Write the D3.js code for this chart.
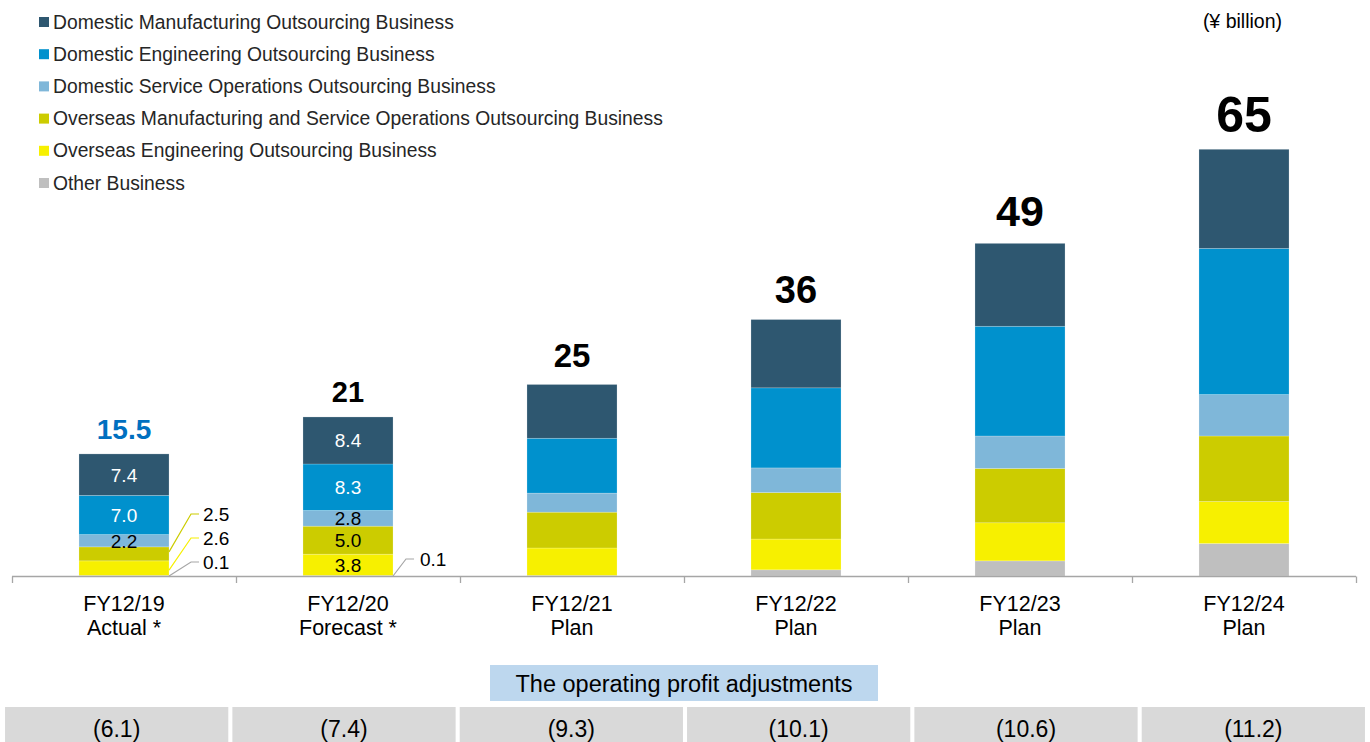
<!DOCTYPE html>
<html><head><meta charset="utf-8">
<script src="https://cdn.jsdelivr.net/npm/d3@7"></script>
<style>
html,body{margin:0;padding:0;background:#fff;}
svg{display:block;font-family:"Liberation Sans",Arial,sans-serif;}
</style></head>
<body><svg id="chart" width="1370" height="742"></svg>
<script>
const yearLabels = ["FY12/19","FY12/20","FY12/21","FY12/22","FY12/23","FY12/24"];
const typeLabels = ["Actual *","Forecast *","Plan","Plan","Plan","Plan"];
const totalLabels = ["15.5","21","25","36","49","65"];
const adjustmentLabels = ["(6.1)","(7.4)","(9.3)","(10.1)","(10.6)","(11.2)"];
const seriesNames = [
  "Domestic Manufacturing Outsourcing Business",
  "Domestic Engineering Outsourcing Business",
  "Domestic Service Operations Outsourcing Business",
  "Overseas Manufacturing and Service Operations Outsourcing Business",
  "Overseas Engineering Outsourcing Business",
  "Other Business"
];
const domesticManufacturing = [7.4, 8.4, 9.6, 12.2, 14.8, 17.7];
const domesticEngineering   = [7.0, 8.3, 9.8, 14.3, 19.6, 26.1];
const domesticService       = [2.2, 2.8, 3.4, 4.4, 5.8, 7.4];
const overseasManufacturing = [2.5, 5.0, 6.4, 8.3, 9.7, 11.7];
const overseasEngineering   = [2.6, 3.8, 4.9, 5.5, 6.8, 7.5];
const otherBusiness         = [0.1, 0.1, 0.1, 1.1, 2.7, 5.8];
const tableHeader = "The operating profit adjustments";
const unitLabel = "(¥ billion)";

const colors = ["#2E5770","#0091CD","#7FB7D9","#CCCC00","#F7F000","#BFBFBF"];
const totalSizes = [28,29,33,38,43,50];
const seriesArrays = [domesticManufacturing,domesticEngineering,domesticService,overseasManufacturing,overseasEngineering,otherBusiness];
const keys = ["other","ovEng","ovMfg","domSvc","domEng","domMfg"];
const keyIndex = {domMfg:0,domEng:1,domSvc:2,ovMfg:3,ovEng:4,other:5};
const rows = yearLabels.map((c,i)=>({cat:c, domMfg:domesticManufacturing[i], domEng:domesticEngineering[i], domSvc:domesticService[i], ovMfg:overseasManufacturing[i], ovEng:overseasEngineering[i], other:otherBusiness[i]}));
const stacked = d3.stack().keys(keys)(rows);

const svg = d3.select("#chart");
const x = d3.scaleBand().domain(yearLabels).range([12,1356]).paddingInner(0.598).paddingOuter(0.299);
const y = d3.scaleLinear().domain([0,80]).range([576,128]);

const g = svg.append("g");
stacked.forEach(layer=>{
  const k = layer.key, ci = keyIndex[k];
  g.selectAll(null).data(layer).enter().append("rect")
    .attr("x", d=>x(d.data.cat)).attr("width", x.bandwidth())
    .attr("y", d=>y(d[1])).attr("height", d=>Math.max(0,y(d[0])-y(d[1])))
    .attr("fill", colors[ci])
    .attr("stroke","#ffffff").attr("stroke-width",0.6).attr("stroke-opacity",0.35);
});

const axisG = svg.append("g");
axisG.append("line").attr("x1",12).attr("x2",1356).attr("y1",576.5).attr("y2",576.5).attr("stroke","#A6A6A6").attr("stroke-width",1.3);
const boundaries = [x.range()[0]].concat(yearLabels.map(c=>x(c)+x.bandwidth()/2+x.step()/2));
axisG.selectAll(null).data(boundaries).enter().append("line")
  .attr("x1",d=>Math.round(d)+0.5).attr("x2",d=>Math.round(d)+0.5).attr("y1",576.5).attr("y2",583)
  .attr("stroke","#A6A6A6").attr("stroke-width",1.3);

const cx = c=>x(c)+x.bandwidth()/2;
svg.selectAll(null).data(yearLabels).enter().append("text")
  .attr("x",d=>cx(d)).attr("y",611).attr("text-anchor","middle").attr("font-size",21.5).attr("fill","#000").text(d=>d);
svg.selectAll(null).data(typeLabels).enter().append("text")
  .attr("x",(d,i)=>cx(yearLabels[i])).attr("y",635).attr("text-anchor","middle").attr("font-size",21.5).attr("fill","#000").text(d=>d);

svg.selectAll(null).data(totalLabels).enter().append("text")
  .attr("x",(d,i)=>cx(yearLabels[i]))
  .attr("y",(d,i)=>{const s=stacked[stacked.length-1][i]; return y(s[1])-(i<2?15:17);})
  .attr("text-anchor","middle").attr("font-weight","bold")
  .attr("font-size",(d,i)=>totalSizes[i])
  .attr("fill",(d,i)=>i===0?"#0070C0":"#000").text(d=>d);

const inside = {0:["domMfg","domEng","domSvc"],1:["domMfg","domEng","domSvc","ovMfg","ovEng"]};
Object.keys(inside).forEach(i=>{
  i=+i;
  inside[i].forEach(k=>{
    const layer = stacked.find(l=>l.key===k)[i];
    const ci = keyIndex[k];
    svg.append("text").attr("x",cx(yearLabels[i])).attr("y",(y(layer[0])+y(layer[1]))/2+7)
      .attr("text-anchor","middle").attr("font-size",19)
      .attr("fill", ci<=1?"#fff":"#000").text(d3.format(".1f")(seriesArrays[ci][i]));
  });
});

const right0 = x(yearLabels[0])+x.bandwidth();
const leaders0 = [{k:"ovMfg",ly:y(0)-62},{k:"ovEng",ly:y(0)-38},{k:"other",ly:y(0)-14}];
leaders0.forEach(o=>{
  const s = stacked.find(l=>l.key===o.k)[0];
  const ci = keyIndex[o.k];
  const sy = o.k==="other"? y(0) : (y(s[0])+y(s[1]))/2+ (o.k==="ovMfg"?-2:2);
  svg.append("polyline").attr("points",`${right0},${sy} ${right0+22},${o.ly} ${right0+30},${o.ly}`)
    .attr("fill","none").attr("stroke", ci===5?"#A6A6A6":colors[ci]).attr("stroke-width",1.2);
  svg.append("text").attr("x",right0+34).attr("y",o.ly+7).attr("font-size",19).attr("fill","#000")
    .text(d3.format(".1f")(seriesArrays[ci][0]));
});
const right1 = x(yearLabels[1])+x.bandwidth();
svg.append("polyline").attr("points",`${right1},${y(0)} ${right1+13},${y(0)-17} ${right1+21},${y(0)-17}`)
  .attr("fill","none").attr("stroke","#A6A6A6").attr("stroke-width",1.2);
svg.append("text").attr("x",right1+27).attr("y",y(0)-10).attr("font-size",19).attr("fill","#000")
  .text(d3.format(".1f")(otherBusiness[1]));

const leg = svg.append("g");
seriesNames.forEach((n,i)=>{
  const yy = 22 + i*32.2;
  leg.append("rect").attr("x",39).attr("y",yy-5).attr("width",10).attr("height",10).attr("fill",colors[i]);
  leg.append("text").attr("x",53).attr("y",yy+6.5).attr("font-size",19.3).attr("fill","#262626").text(n);
});
svg.append("text").attr("x",1282).attr("y",28).attr("text-anchor","end").attr("font-size",19.5).attr("fill","#000").text(unitLabel);

svg.append("rect").attr("x",490).attr("y",665).attr("width",388).attr("height",36).attr("fill","#BDD7EE");
svg.append("text").attr("x",684).attr("y",692).attr("text-anchor","middle").attr("font-size",23.5).attr("fill","#000").text(tableHeader);
const tx = d3.scaleBand().domain(yearLabels).range([3,1367]).paddingInner(0.018).paddingOuter(0.009);
svg.selectAll(null).data(yearLabels).enter().append("rect")
  .attr("x",d=>tx(d)).attr("width",tx.bandwidth()).attr("y",707).attr("height",40).attr("fill","#D9D9D9");
svg.selectAll(null).data(adjustmentLabels).enter().append("text")
  .attr("x",(d,i)=>tx(yearLabels[i])+tx.bandwidth()/2).attr("y",737).attr("text-anchor","middle")
  .attr("font-size",23).attr("fill","#000").text(d=>d);
</script></body></html>
